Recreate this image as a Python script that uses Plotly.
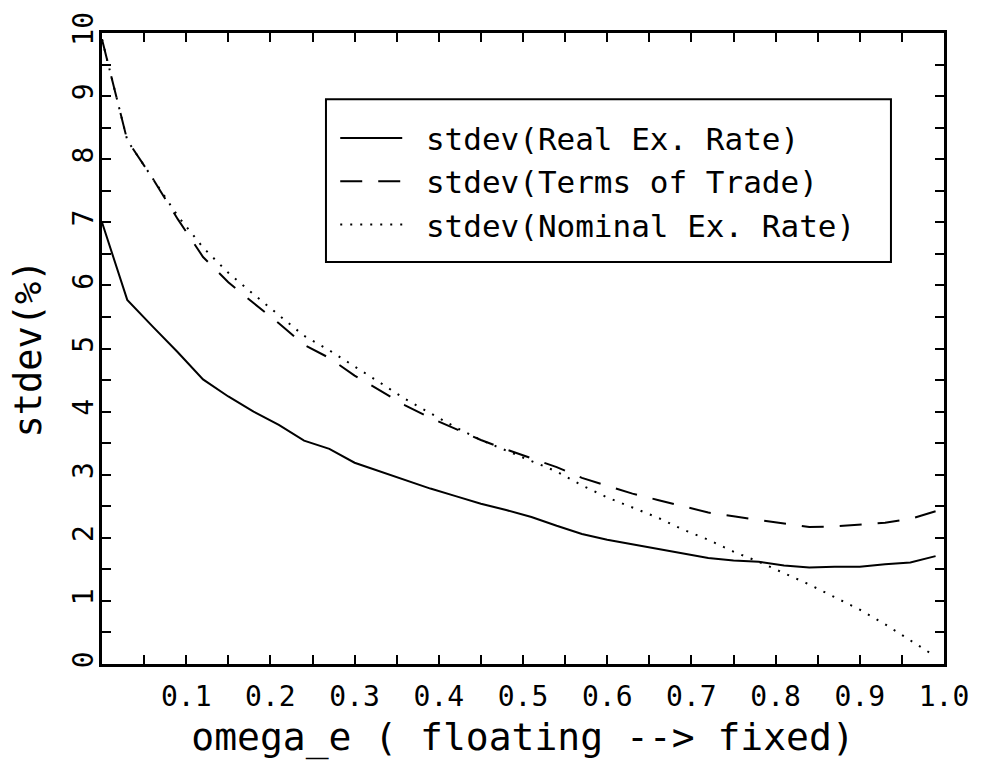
import plotly.graph_objects as go

omega = [0.00, 0.03, 0.06, 0.09, 0.12, 0.15, 0.18, 0.21, 0.24, 0.27, 0.30, 0.33,
         0.36, 0.39, 0.42, 0.45, 0.48, 0.51, 0.54, 0.57, 0.60, 0.63, 0.66, 0.69,
         0.72, 0.75, 0.78, 0.81, 0.84, 0.87, 0.90, 0.93, 0.96, 0.99]

real_rer = [7.00, 5.77, 5.35, 4.94, 4.51, 4.24, 4.00, 3.79, 3.54, 3.41, 3.19, 3.05,
            2.91, 2.78, 2.66, 2.54, 2.44, 2.33, 2.19, 2.06, 1.97, 1.90, 1.82, 1.76,
            1.68, 1.64, 1.62, 1.56, 1.53, 1.54, 1.54, 1.58, 1.61, 1.71]

terms_of_trade = [9.90, 8.30, 7.70, 7.05, 6.45, 6.05, 5.72, 5.40, 5.06, 4.85, 4.57, 4.33,
                  4.10, 3.90, 3.72, 3.55, 3.40, 3.26, 3.12, 2.95, 2.83, 2.70, 2.60, 2.50,
                  2.40, 2.34, 2.28, 2.22, 2.17, 2.18, 2.21, 2.24, 2.30, 2.42]

nominal_rer = [9.90, 8.30, 7.70, 7.10, 6.60, 6.20, 5.86, 5.53, 5.20, 4.97, 4.72, 4.46,
               4.20, 3.97, 3.75, 3.55, 3.38, 3.22, 3.05, 2.83, 2.64, 2.48, 2.32, 2.13,
               1.97, 1.78, 1.62, 1.44, 1.26, 1.06, 0.86, 0.63, 0.38, 0.12]

series_names = ["stdev(Real Ex. Rate)", "stdev(Terms of Trade)", "stdev(Nominal Ex. Rate)"]

x_tickvals = [0.1, 0.2, 0.3, 0.4, 0.5, 0.6, 0.7, 0.8, 0.9, 1.0]
x_ticktext = ["0.1", "0.2", "0.3", "0.4", "0.5", "0.6", "0.7", "0.8", "0.9", "1.0"]
y_tickvals = [0, 1, 2, 3, 4, 5, 6, 7, 8, 9, 10]
y_ticktext = ["0", "1", "2", "3", "4", "5", "6", "7", "8", "9", "10"]

FONT = "DejaVu Sans Mono"

fig = go.Figure()
fig.add_trace(go.Scatter(x=omega, y=real_rer, mode="lines", name=" " + series_names[0],
                         line=dict(color="black", width=2)))
fig.add_trace(go.Scatter(x=omega, y=terms_of_trade, mode="lines", name=" " + series_names[1],
                         line=dict(color="black", width=2, dash="22px,16px")))
fig.add_trace(go.Scatter(x=omega, y=nominal_rer, mode="lines", name=" " + series_names[2],
                         line=dict(color="black", width=2, dash="2px,8px")))

axis_common = dict(showline=True, linecolor="black", linewidth=3, mirror="ticks",
                   ticks="inside", ticklen=9, tickwidth=2, tickcolor="black",
                   showgrid=False, zeroline=False,
                   tickfont=dict(family=FONT, size=28, color="black"))

fig.update_xaxes(range=[0, 1], tickvals=x_tickvals, ticktext=x_ticktext,
                 minor=dict(dtick=0.05, tick0=0, ticks="inside", ticklen=9,
                            tickwidth=2, tickcolor="black", showgrid=False),
                 ticklabelstandoff=5,
                 title=dict(text="omega_e ( floating --> fixed)",
                            font=dict(family=FONT, size=38, color="black"), standoff=12),
                 **axis_common)
fig.update_yaxes(range=[0, 10], tickvals=y_tickvals, ticktext=y_ticktext, tickangle=-90,
                 minor=dict(dtick=0.5, tick0=0, ticks="inside", ticklen=9,
                            tickwidth=2, tickcolor="black", showgrid=False),
                 ticklabelstandoff=-5,
                 title=dict(text="stdev(%)",
                            font=dict(family=FONT, size=37, color="black"), standoff=14),
                 **axis_common)

fig.add_shape(type="rect", xref="paper", yref="paper",
              x0=0.266, x1=0.937, y0=0.637, y1=0.895,
              line=dict(color="black", width=2), fillcolor="rgba(0,0,0,0)")

fig.update_layout(
    width=981, height=770,
    margin=dict(l=102, r=29, t=28, b=106),
    plot_bgcolor="white", paper_bgcolor="white",
    font=dict(family=FONT, color="black"),
    legend=dict(x=0.277, y=0.876, xanchor="left", yanchor="top",
                bgcolor="rgba(0,0,0,0)", borderwidth=0,
                font=dict(family=FONT, size=31, color="black"),
                itemwidth=62, tracegroupgap=0),
    showlegend=True,
)

fig.write_html("out.html")
